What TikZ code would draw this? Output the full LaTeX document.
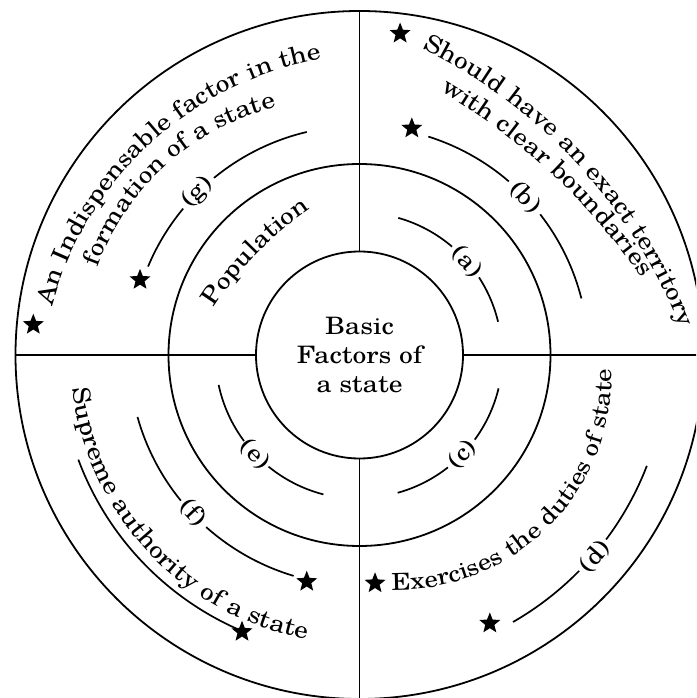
\documentclass[tikz,border=0pt]{standalone}
\usepackage{fontspec}
\setmainfont{texgyreschola-regular.otf}[FakeStretch=1.15]
\usetikzlibrary{decorations.text,shapes.geometric}
\newcommand\tfont{\fontsize{24}{29}\selectfont}
\newcommand\sfontb{\fontsize{23.4}{28}\selectfont}
\tikzset{
  ring/.style={circle, draw, line width=1.8pt, inner sep=0pt, outer sep=0pt},
  divider/.style={line width=1.8pt},
  band/.style={line width=1.7pt},
  lbl/.style={font=\tfont, inner sep=0pt},
  starmark/.style={star, star points=5, star point ratio=2.3, fill=black, draw=none, minimum size=22pt, inner sep=0pt},
  curvetext/.style={decorate, decoration={text along path, text align=left, text={|\tfont|#1}}},
  curvetextsmall/.style={decorate, decoration={text along path, text align=left, text={|\sfontb|#1}}}
}
\begin{document}
\begin{tikzpicture}[x=1pt,y=1pt]
\useasboundingbox (-359.5,-343) rectangle (336.5,355);
\clip (-359.5,-343) rectangle (336.5,355);
% rings
\node[ring, minimum size=688pt] (outer) at (0,0) {};
\node[ring, minimum size=382pt] (mid) at (0,0) {};
\node[ring, minimum size=207pt, font=\tfont, align=center] (core) at (0,0) {Basic\\Factors of\\a state};
% dividers
\draw[divider] (core.north) -- (outer.north);
\draw[divider] (core.south) -- (outer.south);
\draw[divider] (core.west) -- (outer.west);
\draw[divider] (core.east) -- (outer.east);
% inner arcs
\draw[band] (74.2:142.5pt) arc[start angle=74.2, end angle=49.5, radius=142.5pt];
\draw[band] (33:142.5pt) arc[start angle=33, end angle=13.5, radius=142.5pt];
\node[lbl, rotate=-49] (la) at (41:142.5pt) {(a)};
\draw[band] (-13.5:143pt) arc[start angle=-13.5, end angle=-36.3, radius=143pt];
\draw[band] (-51.8:143pt) arc[start angle=-51.8, end angle=-74.5, radius=143pt];
\node[lbl, rotate=46] (lc) at (-44:143pt) {(c)};
\draw[band] (-168:144pt) arc[start angle=-168, end angle=-143.3, radius=144pt];
\draw[band] (-129.2:144pt) arc[start angle=-129.2, end angle=-104.5, radius=144pt];
\node[lbl, rotate=-46.3] (le) at (-136.3:144pt) {(e)};
% outer arcs
\draw[band] (72.5:229pt) arc[start angle=72.5, end angle=49.3, radius=229pt];
\draw[band] (37.9:229pt) arc[start angle=37.9, end angle=14.3, radius=229pt];
\node[lbl, rotate=-46.5] (lb) at (43.5:229pt) {(b)};
\draw[band] (157.3:229.2pt) arc[start angle=157.3, end angle=140.3, radius=229.2pt];
\draw[band] (129.4:229.2pt) arc[start angle=129.4, end angle=103.3, radius=229.2pt];
\node[lbl, rotate=44.9] (lg) at (134.9:229.2pt) {(g)};
\draw[band] (-164.4:230.5pt) arc[start angle=-164.4, end angle=-140.8, radius=230.5pt];
\draw[band] (-131.7:230.5pt) arc[start angle=-131.7, end angle=-106.6, radius=230.5pt];
\node[lbl, rotate=-47] (lf) at (-136.5:229.5pt) {(f)};
\draw[band] (-21.1:308pt) arc[start angle=-21.1, end angle=-36.8, radius=308pt];
\draw[band] (-44.5:308pt) arc[start angle=-44.5, end angle=-60.1, radius=308pt];
\node[lbl, rotate=49.4] (ld) at (-40.6:310pt) {(d)};
\draw[band] (-159.6:300pt) arc[start angle=-159.6, end angle=-114, radius=300pt];
% stars
\node[starmark] (s1) at (82.8:324pt) {};
\node[starmark] (s2) at (174.7:327.6pt) {};
\node[starmark] (s3) at (-86.1:228.8pt) {};
\node[starmark] (s4) at (77:232.6pt) {};
\node[starmark] (s5) at (161.1:232pt) {};
\node[starmark] (s6) at (-103.1:232.8pt) {};
\node[starmark] (s7) at (-64.1:298.4pt) {};
\node[starmark] (s8) at (-113:300.7pt) {};
% curved texts (polylines)
\path[curvetext={Should have an exact territory}] plot[domain=64.1:10, samples=130, variable=\t] ({-165.5+522.5*cos(\t)}, {-163.8+522.5*sin(\t)});
\path[curvetext={with clear boundaries}] plot[domain=59.75:15, samples=110, variable=\t] ({-236.6+630*cos(\t)}, {-280.3+630*sin(\t)});
\path[curvetext={An Indispensable factor in the}] plot[domain=164.9:88, samples=130, variable=\t] ({22.3+341.5*cos(\t)}, {-40.3+341.5*sin(\t)});
\path[curvetext={formation of a state}] plot[domain=159.96:88, samples=100, variable=\t] ({-22.8+254.5*cos(\t)}, {0.4+254.5*sin(\t)});
\path[curvetext={Population}] plot[domain=162:95, samples=60, variable=\t] ({(144+0.0133*(\t-136)*(\t-136))*cos(\t)}, {(144+0.0133*(\t-136)*(\t-136))*sin(\t)});
\path[curvetextsmall={Exercises the duties of state}] plot[domain=-91.55:20, samples=130, variable=\t] ({38+214.5*cos(\t)}, {-20.3+214.5*sin(\t)});
\path[curvetext={Supreme authority of a state}] plot[domain=-173.3:-80, samples=130, variable=\t] ({289*cos(\t)}, {289*sin(\t)});
\end{tikzpicture}
\end{document}
